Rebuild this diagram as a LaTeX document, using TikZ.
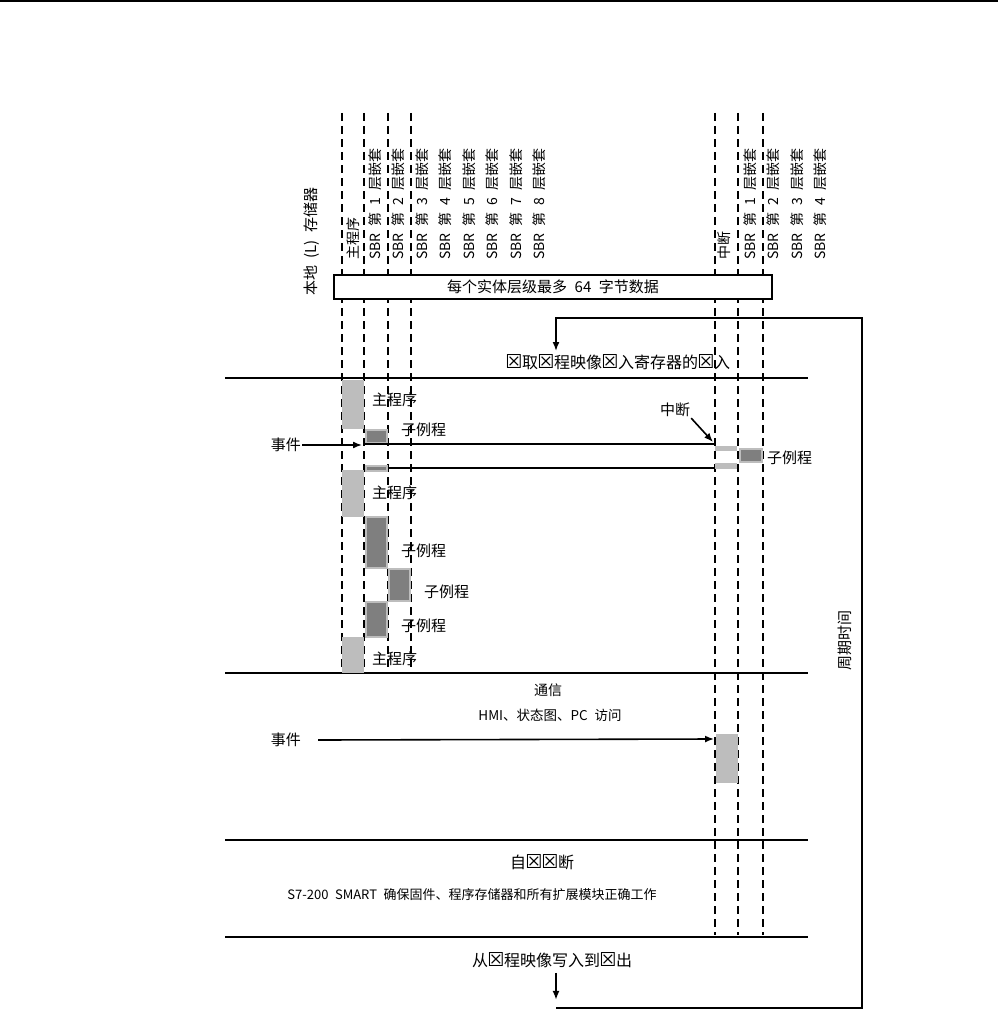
\documentclass[tikz,border=0pt]{standalone}
\usepackage{fontspec}
\setmainfont{Noto Sans CJK SC}
\newfontfamily\ballotfont{DejaVu Sans}
\newcommand\nog{\makebox[1em]{\ballotfont\scalebox{1.2}{☒}}}
\newcommand\hs{\hspace{0.5em}}
\usepackage{xcolor}
\usepackage{tikz}
\usetikzlibrary{positioning, arrows.meta, calc}
\definecolor{maingray}{HTML}{BDBDBD}
\definecolor{subgray}{HTML}{7F7F7F}

\tikzset{
  sepline/.style={line width=2.4pt},
  evline/.style={line width=1.5pt},
  nestline/.style={line width=1.4pt, dash pattern=on 8pt off 5pt},
  mainblk/.style={fill=maingray},
  subblk/.style={fill=subgray, draw=maingray, line width=1.2pt},
  lbl/.style={font=\fontsize{15}{17}\selectfont, inner sep=1pt},
  vlbl/.style={rotate=90, anchor=west, inner sep=0pt, font=\fontsize{14}{16}\selectfont},
  headtxt/.style={font=\fontsize{16}{18}\selectfont, inner sep=1pt},
  arr/.style={-{Latex[length=9pt, width=7pt]}, line width=1.6pt}
}

\begin{document}
\begin{tikzpicture}[x=1pt, y=-1pt]
    \useasboundingbox (0,0) rectangle (998,1022);
    \draw[line width=2pt] (0,1) -- (998,1);

    \foreach \x in {342,364,388,411}
      \draw[nestline] (\x,113) -- (\x,673);
    \foreach \x in {715,738,763}
      \draw[nestline] (\x,113) -- (\x,935);

    \node[vlbl, font=\fontsize{15}{17}\selectfont] (localmem) at (312,296) {本地\hs{}(L)\hs{}存储器};
    \node[vlbl] (mainhead) at (353,260) {主程序};
    \foreach \i in {1,...,8}
      \node[vlbl] (sbr\i) at ({375+23.5*(\i-1)},260) {SBR\hs{}第\hs{}\i\hs{}层嵌套};
    \node[vlbl] (irqhead) at (724,260) {中断};
    \foreach \i in {1,...,4}
      \node[vlbl] (isbr\i) at ({750+23.5*(\i-1)},260) {SBR\hs{}第\hs{}\i\hs{}层嵌套};

    \node[draw, line width=2.4pt, fill=white, minimum width=438pt, minimum height=24pt,
          font=\fontsize{15}{17}\selectfont] (memlimit) at (553,287) {每个实体层级最多\hs{}64\hs{}字节数据};

    \node[headtxt] (readin) at (618,362) {\nog{}取\nog{}程映像\nog{}入寄存器的\nog{}入};

    \draw[sepline] (225,378) -- (808,378);
    \draw[sepline] (225,673) -- (808,673);
    \draw[sepline] (225,840) -- (808,840);
    \draw[sepline] (225,937) -- (808,937);

    % program scan
    \fill[mainblk] (342,380) rectangle (364,429);
    \node[lbl, anchor=west] (main1) at (371,400) {主程序};
    \filldraw[subblk] (366,430) rectangle (387,443);
    \node[lbl, anchor=west] (sub1) at (400,430) {子例程};
    \node[lbl, anchor=east] (event1) at (302,445) {事件};
    \coordinate (eventpt1) at (362,445);
    \draw[arr] (event1) -- (eventpt1);
    \draw[evline] (364,444) -- (715,444);
    \draw[evline] (364,468) -- (715,468);
    \node[lbl] (irq) at (675,410) {中断};
    \coordinate (irqpt) at (713,442);
    \draw[arr] (irq.south east) -- (irqpt);
    \fill[mainblk] (715,446) rectangle (737,451);
    \fill[mainblk] (715,463) rectangle (737,469);
    \filldraw[subblk] (740,449) rectangle (762,462);
    \node[lbl, anchor=west] (isub) at (766,458) {子例程};
    \filldraw[subblk] (366,466) rectangle (387,471);

    \fill[mainblk] (342,470) rectangle (364,517);
    \node[lbl, anchor=west] (main2) at (371,493) {主程序};
    \filldraw[subblk] (366,517) rectangle (387,568);
    \node[lbl, anchor=west] (sub2) at (400,551) {子例程};
    \filldraw[subblk] (389,569) rectangle (410,601);
    \node[lbl, anchor=west] (sub3) at (423,592) {子例程};
    \filldraw[subblk] (366,602) rectangle (387,637);
    \node[lbl, anchor=west] (sub4) at (400,626) {子例程};
    \fill[mainblk] (342,637) rectangle (364,673);
    \node[lbl, anchor=west] (main3) at (371,659) {主程序};

    % communication
    \node[lbl, font=\fontsize{14}{16}\selectfont] (comm) at (548,690) {通信};
    \node[lbl, font=\fontsize{13.5}{15}\selectfont] (commsub) at (550,715) {HMI、状态图、PC\hs{}访问};
    \node[lbl, anchor=east] (event2) at (302,740) {事件};
    \coordinate (eventpt2) at (714,739);
    \draw[arr] ($(event2.east)+(16,0)$) -- (eventpt2);
    \fill[mainblk] (716,734) rectangle (738,783);

    % self test
    \node[headtxt] (selftest) at (542,862) {自\nog\nog{}断};
    \node[lbl, font=\fontsize{13}{15}\selectfont] (selfsub) at (472,895) {S7-200\hs{}SMART\hs{}确保固件、程序存储器和所有扩展模块正确工作};
    \node[headtxt] (writeout) at (552,960) {从\nog{}程映像写入到\nog{}出};

    \coordinate (cycbot) at (556,1008);
    \coordinate (cyctop) at (556,351);
    \draw[arr] (writeout.south -| cycbot) ++(0,4) -- ++(0,27);
    \draw[arr] (cycbot) -- ++(306,0) |- (556,318) -- (cyctop);
    \node[lbl, rotate=90] (cycle) at (845,640) {周期时间};
\end{tikzpicture}
\end{document}
